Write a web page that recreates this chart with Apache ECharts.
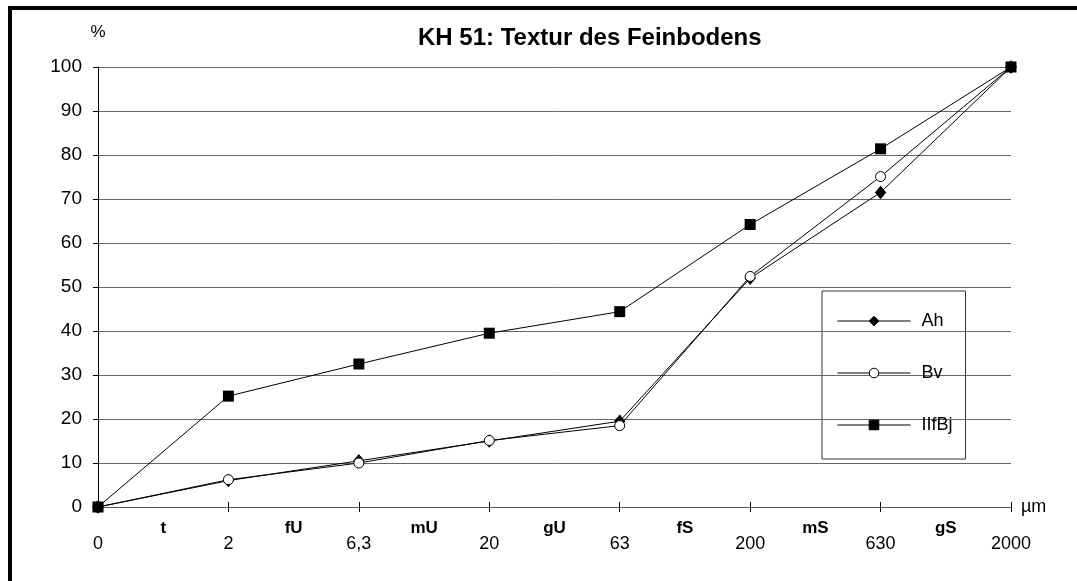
<!DOCTYPE html>
<html>
<head>
<meta charset="utf-8">
<script src="https://cdn.jsdelivr.net/npm/echarts@6/dist/echarts.min.js"></script>
<style>
html,body{margin:0;padding:0;background:#fff;}
#chart{width:1077px;height:581px;}
</style>
</head>
<body>
<div id="chart"></div>
<script>
const sizeLabels = ['0','2','6,3','20','63','200','630','2000'];
const fractionLabels = ['t','fU','mU','gU','fS','mS','gS'];
const seriesNames = ['Ah','Bv','IIfBj'];
const ahValues = [0, 6, 10.5, 15, 19.5, 52, 71.5, 100];
const bvValues = [0, 6.2, 10, 15.1, 18.5, 52.4, 75.1, 100];
const iifbjValues = [0, 25.2, 32.5, 39.5, 44.4, 64.2, 81.4, 100];
const yTicks = {min:0, max:100, interval:10};

const FONT = 'Liberation Sans, Arial, sans-serif';
const toPts = vals => vals.map((v,i)=>[i,v]);

const chart = echarts.init(document.getElementById('chart'), null, {renderer:'canvas'});
const lineStyle = {color:'#000', width:1};
chart.setOption({
  animation:false,
  backgroundColor:'#fff',
  textStyle:{fontFamily:FONT, color:'#000'},
  title:{
    text:'KH 51: Textur des Feinbodens',
    left:413, top:21,
    textStyle:{fontFamily:FONT, fontSize:24, fontWeight:'bold', color:'#000'}
  },
  graphic:[{
    type:'rect', shape:{x:10,y:8,width:1200,height:700},
    style:{fill:'none', stroke:'#000', lineWidth:4}, silent:true, z:100
  }],
  legend:{
    orient:'vertical',
    left:822, top:291,
    padding:[21,13,25,15],
    itemGap:34,
    itemWidth:73, itemHeight:12,
    borderColor:'#333', borderWidth:1,
    lineStyle:{width:1, color:'#000'},
    itemStyle:{borderWidth:1},
    textStyle:{fontFamily:FONT, fontSize:18, lineHeight:18, color:'#000', padding:[0,0,0,6]},
    data:seriesNames
  },
  grid:{left:98, right:66, top:67, bottom:74},
  xAxis:[
    {
      type:'value', min:0, max:7, interval:1, position:'bottom',
      name:'µm', nameLocation:'end', nameGap:10,
      nameTextStyle:{fontFamily:FONT, fontSize:18, color:'#000'},
      axisLine:{onZero:false, lineStyle:{color:'#555', width:1}},
      axisTick:{show:true, length:5, lineStyle:{color:'#000'}},
      axisLabel:{margin:28, fontFamily:FONT, fontSize:18, color:'#000',
        formatter:v=>sizeLabels[Math.round(v)] ?? ''},
      splitLine:{show:false}
    },
    {
      type:'value', min:0, max:7, interval:1, position:'bottom',
      axisLine:{show:false},
      axisTick:{show:true, inside:true, length:5, lineStyle:{color:'#000'}},
      axisLabel:{show:false},
      splitLine:{show:false}
    },
    {
      type:'value', min:0, max:7, interval:0.5, position:'bottom',
      axisLine:{show:false},
      axisTick:{show:false},
      axisLabel:{margin:13, fontFamily:FONT, fontSize:17, fontWeight:'bold', color:'#000',
        showMinLabel:false, showMaxLabel:false,
        formatter:v=>{ const k=Math.floor(v); return (Math.abs(v-k-0.5)<1e-6) ? (fractionLabels[k]||'') : ''; }},
      splitLine:{show:false}
    }
  ],
  yAxis:{
    type:'value', min:yTicks.min, max:yTicks.max, interval:yTicks.interval,
    name:'%', nameLocation:'end', nameGap:26,
    nameTextStyle:{fontFamily:FONT, fontSize:17, color:'#000', align:'center'},
    axisLine:{show:true, lineStyle:{color:'#000', width:1}},
    axisTick:{show:true, length:5, lineStyle:{color:'#000'}},
    axisLabel:{margin:16, fontFamily:FONT, fontSize:19, color:'#000'},
    splitLine:{show:true, lineStyle:{color:'#666', width:1}}
  },
  series:[
    {name:seriesNames[0], type:'line', xAxisIndex:0, data:toPts(ahValues),
     symbol:'diamond', symbolSize:[10,12], lineStyle,
     itemStyle:{color:'#000', borderColor:'#000', borderWidth:1}},
    {name:seriesNames[1], type:'line', xAxisIndex:0, data:toPts(bvValues),
     symbol:'circle', symbolSize:10, lineStyle,
     itemStyle:{color:'#fff', borderColor:'#000', borderWidth:1}},
    {name:seriesNames[2], type:'line', xAxisIndex:0, data:toPts(iifbjValues),
     symbol:'rect', symbolSize:11, lineStyle,
     itemStyle:{color:'#000', borderColor:'#000', borderWidth:0}}
  ]
});
</script>
</body>
</html>
